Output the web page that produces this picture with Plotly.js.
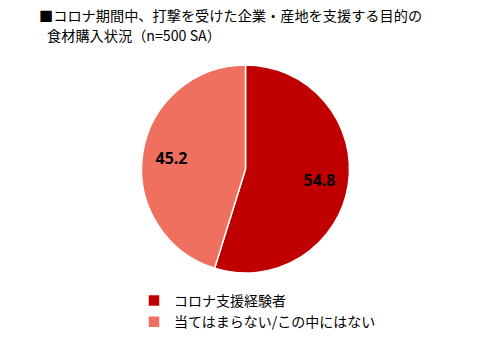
<!DOCTYPE html>
<html><head><meta charset="utf-8">
<script src="https://cdn.plot.ly/plotly-3.0.1.min.js"></script>
<style>html,body{margin:0;padding:0;background:#fff}#c{width:490px;height:340px}</style>
</head><body><div id="c"></div>
<script>
const labels = ["コロナ支援経験者", "当てはまらない/この中にはない"];
const values = [54.8, 45.2];
const colors = ["#C00000", "#F07060"];
const titleLines = ["■コロナ期間中、打撃を受けた企業・産地を支援する目的の", "食材購入状況（n=500 SA）"];

const font = "'Noto Sans CJK JP', 'Noto Sans', sans-serif";
const dom = {x: [141.5/490, 349.5/490], y: [1-273/340, 1-65/340]};
Plotly.newPlot("c", [{
  type: "pie",
  labels: labels,
  values: values,
  sort: false,
  direction: "clockwise",
  rotation: 0,
  marker: {colors: colors, line: {color: "#ffffff", width: 1.5}},
  textinfo: "none",
  domain: dom,
  hoverinfo: "none"
}, {
  type: "pie",
  labels: labels,
  values: values,
  sort: false,
  direction: "clockwise",
  rotation: 0,
  hole: 0.44,
  showlegend: false,
  marker: {colors: ["rgba(0,0,0,0)", "rgba(0,0,0,0)"], line: {width: 0}},
  texttemplate: "%{value:.1f}",
  textposition: "inside",
  insidetextorientation: "horizontal",
  insidetextfont: {family: "'Noto Sans', sans-serif", size: 16, color: "#000000", weight: "bold"},
  domain: dom,
  hoverinfo: "none"
}], {
  width: 490, height: 340,
  margin: {l: 0, r: 0, t: 0, b: 0},
  paper_bgcolor: "#ffffff",
  showlegend: true,
  legend: {x: 134/490, xanchor: "left", y: 1-285/340, yanchor: "top",
           font: {family: font, size: 14, color: "#000"}, tracegroupgap: 0, itemwidth: 30},
  annotations: titleLines.map((t, i) => ({
    text: t, showarrow: false, xref: "paper", yref: "paper",
    x: (i === 0 ? 37 : 45)/490, xanchor: "left",
    y: 1 - (15.5 + i*20)/340, yanchor: "middle",
    font: {family: font, size: 14.2, color: "#000"}
  }))
}, {displayModeBar: false, staticPlot: true});
</script></body></html>
